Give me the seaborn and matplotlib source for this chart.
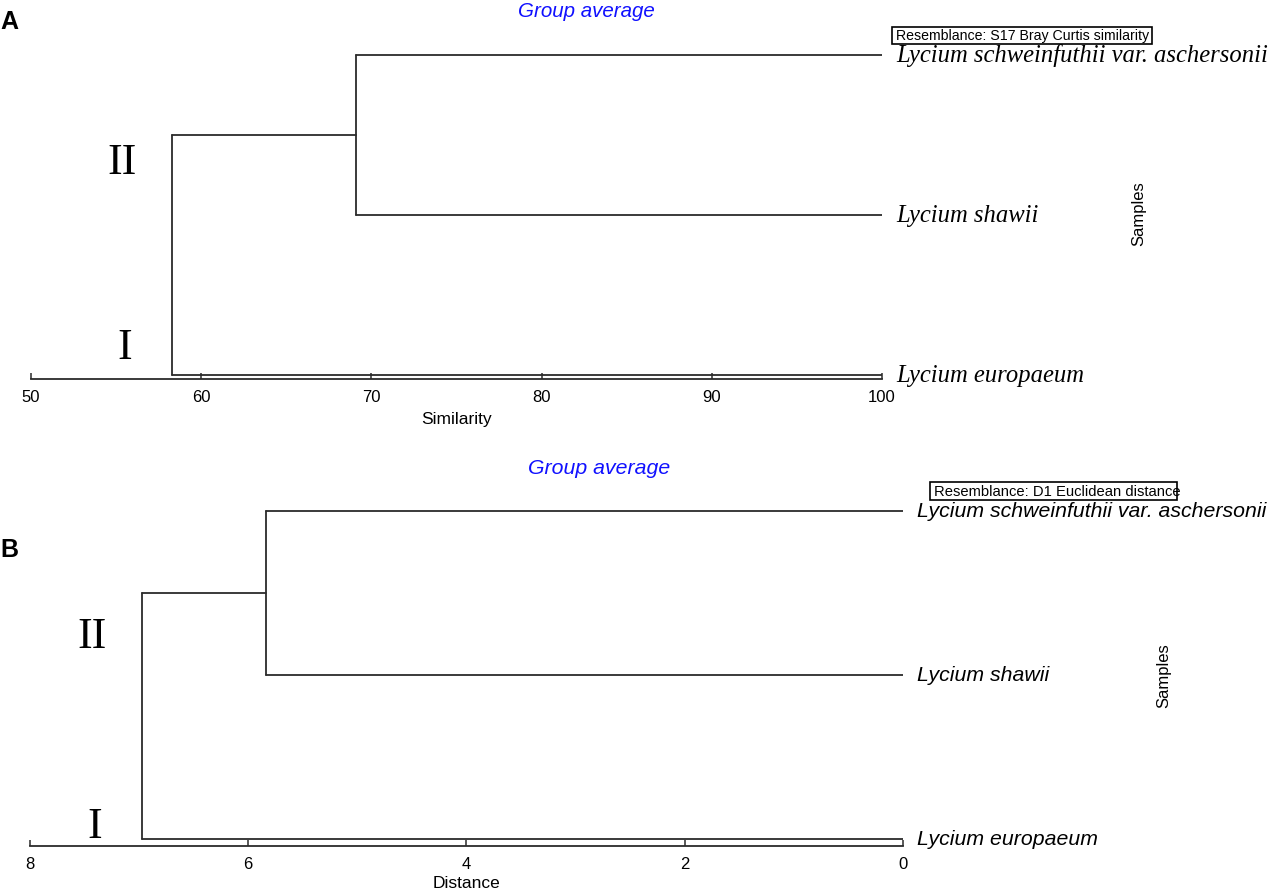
import numpy as np
import pandas as pd
import matplotlib
matplotlib.use("Agg")
import matplotlib.pyplot as plt
import seaborn as sns
from matplotlib.patches import Rectangle

# ── data ──────────────────────────────────────────────────────────────────────
leaves = ["Lycium europaeum", "Lycium shawii", "Lycium schweinfuthii var. aschersonii"]

# panel A: Bray Curtis similarity (group average)
sim_ticks = [50, 60, 70, 80, 90, 100]
sim_merge_pair = 69.1    # schweinfuthii + shawii
sim_merge_root = 58.3    # (pair) + europaeum
sim_leaf = 100

# panel B: Euclidean distance (group average)
dist_ticks = [8, 6, 4, 2, 0]
dist_merge_pair = 5.84
dist_merge_root = 6.97
dist_leaf = 0

W, H = 1269, 896
LINE = "#2b2b2b"


def segments(leaf_x, pair_x, root_x):
    """Elbow segments for a 3-leaf dendrogram (leaves at y = 0, 1, 2)."""
    segs = [
        [(pair_x, 2), (leaf_x, 2)],
        [(pair_x, 1), (leaf_x, 1)],
        [(pair_x, 1), (pair_x, 2)],
        [(root_x, 1.5), (pair_x, 1.5)],
        [(root_x, 0), (leaf_x, 0)],
        [(root_x, 0), (root_x, 1.5)],
    ]
    rows = []
    for i, s in enumerate(segs):
        for x, y in s:
            rows.append({"seg": i, "x": x, "y": y})
    return pd.DataFrame(rows)


def fig_rect(left, top, right, bottom):
    return [left / W, 1 - bottom / H, (right - left) / W, (bottom - top) / H]


sns.set_style("white")
plt.rcParams["font.family"] = ["Liberation Sans", "DejaVu Sans"]
plt.rcParams["text.color"] = "black"
plt.rcParams["axes.labelcolor"] = "black"
plt.rcParams["xtick.color"] = "black"

fig = plt.figure(figsize=(W / 100, H / 100), dpi=100)


def draw_panel(ax, df, xlim, ylim, ticks, xlabel, labelpad, lab_font, lab_size, lab_dy):
    sns.lineplot(data=df, x="x", y="y", units="seg", estimator=None, sort=False,
                 color=LINE, linewidth=1.3, ax=ax)
    ax.set_xlim(*xlim)
    ax.set_ylim(*ylim)
    for s in ["top", "left", "right"]:
        ax.spines[s].set_visible(False)
    ax.spines["bottom"].set_color(LINE)
    ax.spines["bottom"].set_linewidth(1.3)
    ax.set_yticks([])
    ax.set_ylabel("")
    ax.set_xticks(ticks)
    ax.set_xticklabels([str(t) for t in ticks])
    ax.tick_params(axis="x", direction="in", length=4.3, width=1.1, color=LINE,
                   labelcolor="black", pad=8, labelsize=12, bottom=True)
    ax.set_xlabel(xlabel, fontsize=12.5, labelpad=labelpad, color="black")
    for i, name in enumerate(leaves):
        ax.annotate(name, xy=(xlim[1], i), xytext=(10, -lab_dy), textcoords="offset points",
                    ha="left", va="baseline", fontsize=lab_size, style="italic",
                    family=lab_font, color="black", annotation_clip=False)


# ── panel A ───────────────────────────────────────────────────────────────────
axA = fig.add_axes(fig_rect(31, 40, 882, 379))
dfA = segments(sim_leaf, sim_merge_pair, sim_merge_root)
draw_panel(axA, dfA, (50, 100), ((374.7 - 379) / 160, (374.7 - 40) / 160), sim_ticks,
           "Similarity", 5, ["Liberation Serif", "DejaVu Serif"], 17.7, 5.3)

# ── panel B ───────────────────────────────────────────────────────────────────
axB = fig.add_axes(fig_rect(30, 495, 902.7, 846))
dfB = segments(dist_leaf, dist_merge_pair, dist_merge_root)
draw_panel(axB, dfB, (8, 0), ((839.3 - 846) / 164.15, (839.3 - 495) / 164.15), dist_ticks,
           "Distance", 3, ["Liberation Sans", "DejaVu Sans"], 15.3, 4)


def ftext(px, py, s, **kw):
    fig.text(px / W, 1 - py / H, s, **kw)


# panel letters
ftext(0, 28.7, "A", fontsize=18, fontweight="bold", ha="left", va="baseline")
ftext(0, 557, "B", fontsize=18, fontweight="bold", ha="left", va="baseline")

# titles
ftext(586.5, 17.3, "Group average", fontsize=14.8, style="italic", color="#1010ff",
      ha="center", va="baseline")
ftext(599, 474.3, "Group average", fontsize=15.3, style="italic", color="#1010ff",
      ha="center", va="baseline")

# cluster numerals
serif = ["Liberation Serif", "DejaVu Serif"]
ftext(122, 174, "II", fontsize=31.5, family=serif, ha="center", va="baseline")
ftext(125, 359, "I", fontsize=31.5, family=serif, ha="center", va="baseline")
ftext(92, 648, "II", fontsize=31.5, family=serif, ha="center", va="baseline")
ftext(95, 838, "I", fontsize=31.5, family=serif, ha="center", va="baseline")

# "Samples" side labels
ftext(1138.3, 214, "Samples", fontsize=12, rotation=90, ha="center", va="center")
ftext(1164, 675.5, "Samples", fontsize=12, rotation=90, ha="center", va="center")

# resemblance boxes
for (l, t, r, b), txt, fs in [((892, 27, 1152, 44), "Resemblance: S17 Bray Curtis similarity", 10.2),
                              ((930, 482, 1177, 500), "Resemblance: D1 Euclidean distance", 10.6)]:
    fig.patches.append(Rectangle((l / W, 1 - b / H), (r - l) / W, (b - t) / H,
                                 transform=fig.transFigure, fill=False,
                                 edgecolor="black", linewidth=1.2))
    ftext(l + 3.5, (t + b) / 2 + 0.5, txt, fontsize=fs, ha="left", va="center")

fig.savefig("out.png", dpi=100)
